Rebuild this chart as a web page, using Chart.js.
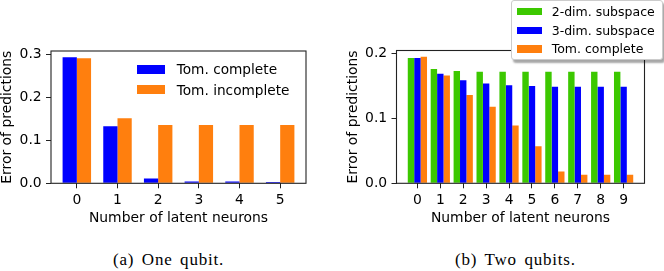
<!DOCTYPE html>
<html><head><meta charset="utf-8">
<script src="https://cdn.jsdelivr.net/npm/chart.js@4.4.0/dist/chart.umd.min.js"></script>
<style>
html,body{margin:0;padding:0;background:#fff;}
body{width:664px;height:271px;position:relative;overflow:hidden;font-family:"DejaVu Sans";}
canvas{position:absolute;}
.patch{position:absolute;}
.ltxt{position:absolute;font-family:"DejaVu Sans";color:#000;white-space:nowrap;line-height:16px;}
.box{position:absolute;background:#fff;border:1px solid #cccccc;border-radius:3px;box-shadow:2px 3px 2px rgba(0,0,0,0.35);}
.cap{position:absolute;font-family:"Liberation Serif";font-size:17px;letter-spacing:0.8px;word-spacing:2.5px;white-space:nowrap;line-height:16px;color:#000;}
</style></head><body>
<canvas id="c1" width="330" height="230" style="left:0;top:0"></canvas>
<canvas id="c2" width="334" height="230" style="left:330px;top:0"></canvas>
<div class="cap" style="left:113px;top:252px">(a) One qubit.</div>
<div class="cap" style="left:455px;top:252px">(b) Two qubits.</div>
<script>
// ---- data: (a) one qubit ----
const oneCategories = [0, 1, 2, 3, 4, 5];
const oneTomComplete = [0.294, 0.133, 0.011, 0.004, 0.004, 0.003];
const oneTomIncomplete = [0.292, 0.152, 0.136, 0.136, 0.136, 0.136];
const oneYTicks = [0, 0.1, 0.2, 0.3];
const oneLabels = ['Tom. complete', 'Tom. incomplete'];

// ---- data: (b) two qubits ----
const twoCategories = [0, 1, 2, 3, 4, 5, 6, 7, 8, 9];
const two2dim = [0.193, 0.176, 0.173, 0.172, 0.172, 0.172, 0.172, 0.172, 0.172, 0.172];
const two3dim = [0.193, 0.169, 0.159, 0.154, 0.151, 0.150, 0.149, 0.149, 0.149, 0.149];
const twoTomComplete = [0.195, 0.166, 0.136, 0.118, 0.089, 0.057, 0.018, 0.013, 0.013, 0.013];
const twoYTicks = [0, 0.1, 0.2];
const twoLabels = ['2-dim. subspace', '3-dim. subspace', 'Tom. complete'];

const xTitle = 'Number of latent neurons';
const yTitle = 'Error of predictions';

const BLUE = '#0000ff', ORANGE = '#ff7f0e', GREEN = '#3cc800';
const FONT = 'DejaVu Sans';

const frame = {
  id: 'frame',
  afterDatasetsDraw(chart) {
    const {ctx, chartArea: a} = chart;
    ctx.save();
    ctx.strokeStyle = '#222';
    ctx.lineWidth = 1.1;
    ctx.strokeRect(a.left, a.top, a.right - a.left, a.bottom - a.top);
    ctx.restore();
  }
};

function makeChart(id, cats, series, yTicks, o) {
  return new Chart(document.getElementById(id), {
    type: 'bar',
    data: {
      datasets: series.map(s => ({
        label: s.label,
        data: cats.map((c, i) => ({x: c, y: s.values[i]})),
        backgroundColor: s.color,
        borderWidth: 0,
        barPercentage: 1,
        categoryPercentage: o.catPct,
        grouped: true
      }))
    },
    options: {
      responsive: false, animation: false, devicePixelRatio: 1,
      layout: {padding: {left: 0, top: o.top, right: o.right, bottom: 0}},
      plugins: {legend: {display: false}, tooltip: {enabled: false}},
      scales: {
        x: {
          type: 'linear', min: o.xmin, max: o.xmax, offset: false,
          afterBuildTicks: s => { s.ticks = cats.map(v => ({value: v})); },
          afterFit: s => { s.height = o.xh; },
          grid: {display: true, drawOnChartArea: false, drawTicks: true, tickLength: 5, color: '#222', lineWidth: 1, offset: false},
          border: {display: false},
          ticks: {padding: 3.5, color: '#000', font: {family: FONT, size: 13.9}, maxRotation: 0, autoSkip: false, callback: v => String(v)},
          title: {display: true, text: xTitle, color: '#000', font: {family: FONT, size: 13.9}, padding: {top: 0, bottom: 3.4}}
        },
        y: {
          type: 'linear', min: 0, max: o.ymax,
          afterBuildTicks: s => { s.ticks = yTicks.map(v => ({value: v})); },
          afterFit: s => { s.width = o.yw; },
          grid: {display: true, drawOnChartArea: false, drawTicks: true, tickLength: 5, color: '#222', lineWidth: 1},
          border: {display: false},
          ticks: {padding: 4.3, color: '#000', font: {family: FONT, size: 13.9}, callback: v => v.toFixed(1)},
          title: {display: true, text: yTitle, color: '#000', font: {family: FONT, size: 13.9}, padding: {top: o.ytp, bottom: 0}}
        }
      }
    },
    plugins: [frame]
  });
}

makeChart('c1', oneCategories, [
  {label: oneLabels[0], values: oneTomComplete, color: BLUE},
  {label: oneLabels[1], values: oneTomIncomplete, color: ORANGE}
], oneYTicks, {catPct: 0.7, top: 51, right: 24, xmin: -0.635, xmax: 5.635, xh: 46.7, ymax: 0.3087, yw: 51, ytp: -0.7});

makeChart('c2', twoCategories, [
  {label: twoLabels[0], values: two2dim, color: GREEN},
  {label: twoLabels[1], values: two3dim, color: BLUE},
  {label: twoLabels[2], values: twoTomComplete, color: ORANGE}
], twoYTicks, {catPct: 0.84, top: 50.5, right: 19.5, xmin: -0.912, xmax: 9.912, xh: 46.7, ymax: 0.2047, yw: 66.5, ytp: 14.9});

// ---- legends (HTML text) ----
function legend(labels, colors, o) {
  if (o.box) {
    const b = document.createElement('div');
    b.className = 'box';
    Object.assign(b.style, {left: o.box[0] + 'px', top: o.box[1] + 'px', width: o.box[2] + 'px', height: o.box[3] + 'px'});
    document.body.appendChild(b);
  }
  labels.forEach((lab, i) => {
    const cy = o.y0 + i * o.dy;
    const p = document.createElement('div');
    p.className = 'patch';
    Object.assign(p.style, {left: o.px + 'px', top: (cy - o.ph / 2) + 'px', width: o.pw + 'px', height: o.ph + 'px', background: colors[i]});
    document.body.appendChild(p);
    const t = document.createElement('div');
    t.className = 'ltxt';
    t.textContent = lab;
    Object.assign(t.style, {left: o.tx + 'px', top: (cy - 7.75) + 'px', fontSize: o.fs + 'px'});
    document.body.appendChild(t);
  });
}
legend(oneLabels, [BLUE, ORANGE], {px: 136.7, pw: 28.3, ph: 8.8, y0: 69.2, dy: 20.4, tx: 176.7, fs: 13.7});
legend(twoLabels, [GREEN, BLUE, ORANGE], {box: [511, 0, 150, 58], px: 516.5, pw: 25.5, ph: 7.5, y0: 11.7, dy: 18.6, tx: 551.7, fs: 12.5});
</script>
</body></html>
